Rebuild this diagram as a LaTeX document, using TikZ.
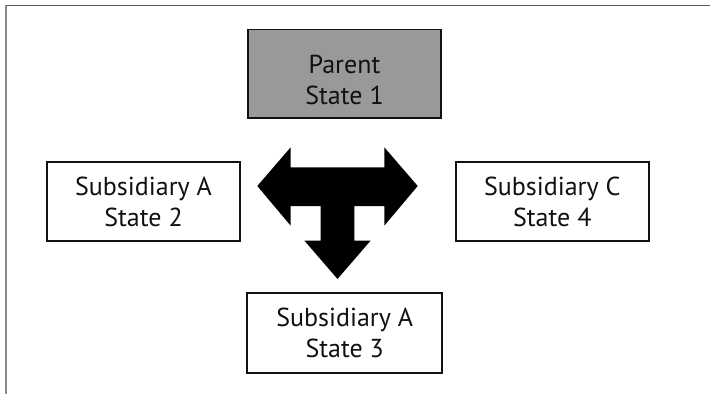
\documentclass[tikz,border=0pt]{standalone}
\usepackage{fontspec}
\setmainfont{PT Sans}
\definecolor{frameline}{HTML}{555555}
\definecolor{frameside}{HTML}{888888}
\definecolor{boxline}{HTML}{111111}
\definecolor{parentfill}{HTML}{999999}
\begin{document}
\begin{tikzpicture}[
    x=1pt,
    y=-1pt,
    font=\fontsize{26}{31}\selectfont,
    box/.style={draw=boxline, line width=1.5pt, fill=white, text=boxline, align=center, inner sep=0pt, minimum width=193pt, minimum height=79pt},
    bigarrow/.style={fill=black}
]
\useasboundingbox (0,0) rectangle (710,394);

% page frame, cut off at right and bottom
\draw[frameline, line width=1.5pt] (5.3,5.3) -- (710,5.3);
\draw[frameside, line width=1.5pt] (6,5.3) -- (6,394);

\node[box, fill=parentfill, minimum height=88.5pt,
    label={[align=center, text=boxline, yshift=-6pt]center:Parent\\State 1}] (parent) at (344.5,73.5) {};
\node[box] (subA) at (143.5,201.7) {Subsidiary A\\State 2};
\node[box] (subC) at (552.3,201.7) {Subsidiary C\\State 4};
\node[box, minimum width=195pt, minimum height=80pt] (subB) at (344.7,333) {Subsidiary A\\State 3};

% three-headed block arrow
\fill[bigarrow, shift={(337.5,186)}]
    (-80.2,0) -- (-46.8,-38.7) -- (-46.8,-18.7) -- (46.8,-18.7) -- (46.8,-38.7)
    -- (80.2,0) -- (46.8,39.7) -- (46.8,20) -- (16.8,20) -- (16.8,54.5)
    -- (33.2,54.5) -- (0,93) -- (-33.2,54.5) -- (-16.8,54.5) -- (-16.8,20)
    -- (-46.8,20) -- (-46.8,39.7) -- cycle;
\end{tikzpicture}
\end{document}
